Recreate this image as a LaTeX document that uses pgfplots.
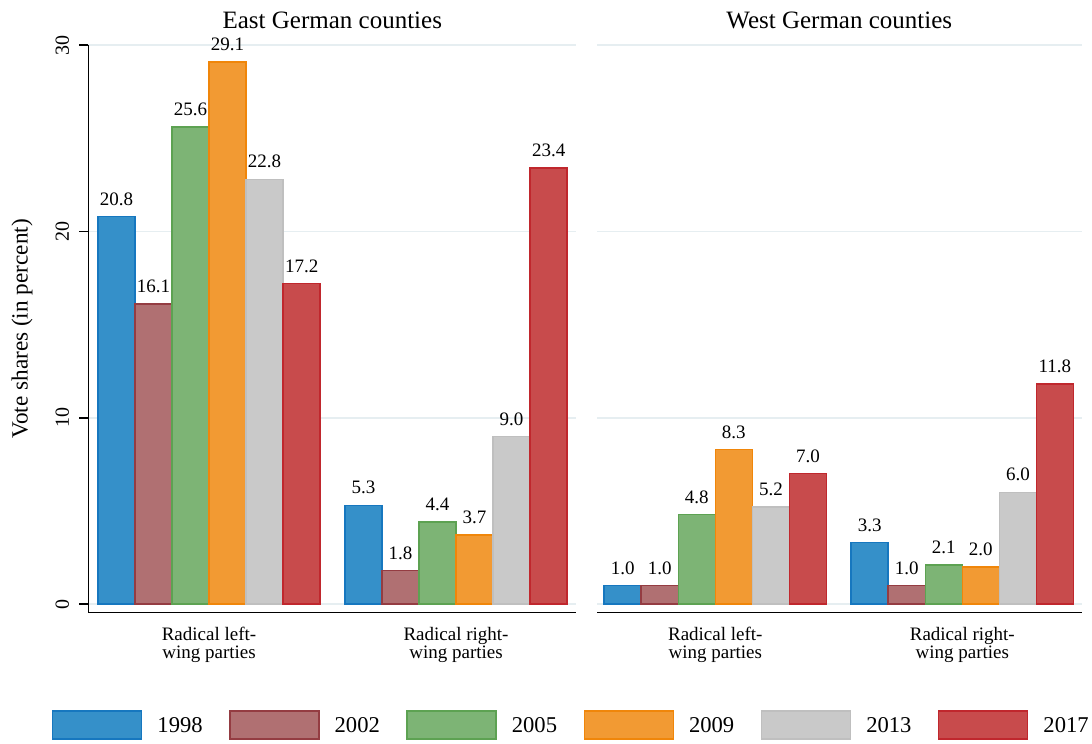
\documentclass[border=0pt]{standalone}
\usepackage{pgfplots}
\pgfplotsset{compat=1.18}
\usepackage{fontspec}
\setmainfont{Liberation Serif}

% bar fills and outlines, one pair per election year
\definecolor{f98}{HTML}{3590C9}\definecolor{e98}{HTML}{1677BF}
\definecolor{f02}{HTML}{B07072}\definecolor{e02}{HTML}{943C42}
\definecolor{f05}{HTML}{7DB475}\definecolor{e05}{HTML}{5DA252}
\definecolor{f09}{HTML}{F29A33}\definecolor{e09}{HTML}{F0860A}
\definecolor{f13}{HTML}{C9C9C9}\definecolor{e13}{HTML}{BFBFBF}
\definecolor{f17}{HTML}{C84B4C}\definecolor{e17}{HTML}{C0272D}
\definecolor{gridc}{HTML}{E6EEF1}

\pgfplotsset{
  panel/.style={
    x=123.5pt, y=9.317pt,
    ymin=-0.45, ymax=30,
    clip=false,
    scale only axis,
    axis x line*=bottom, axis y line*=left,
    axis line style={line width=0.75pt, -},
    xtick={0,1},
    xticklabels={{Radical left-\\wing parties},{Radical right-\\wing parties}},
    x tick style={draw=none},
    xticklabel style={align=center, font=\fontsize{9.5}{9}\selectfont,
      anchor=north, inner sep=0pt, yshift=-2.8pt},
    ytick={0,10,20,30},
    ymajorgrids,
    grid style={draw=gridc, line width=0.8pt},
    ybar, bar width=0.15,
    /pgf/number format/assume math mode=true,
    nodes near coords={\pgfmathprintnumber[fixed,fixed zerofill,precision=1]{\pgfplotspointmeta}},
    every node near coord/.append style={font=\fontsize{9.5}{11}\selectfont,
      anchor=base, yshift=5.7pt, inner sep=0pt, text=black},
    title style={at={(axis description cs:0.5,1)}, anchor=base, yshift=2.3pt,
      font=\fontsize{12.5}{14}\selectfont},
    legend image code/.code={\draw[##1] (0pt,-3.2pt) rectangle (44.5pt,10.8pt);},
  },
  y98/.style={draw=e98, fill=f98, line width=0.75pt, bar shift=-0.375},
  y02/.style={draw=e02, fill=f02, line width=0.75pt, bar shift=-0.225},
  y05/.style={draw=e05, fill=f05, line width=0.75pt, bar shift=-0.075},
  y09/.style={draw=e09, fill=f09, line width=0.75pt, bar shift=0.075},
  y13/.style={draw=e13, fill=f13, line width=0.75pt, bar shift=0.225},
  y17/.style={draw=e17, fill=f17, line width=0.75pt, bar shift=0.375},
}

\begin{document}
\begin{tikzpicture}
\useasboundingbox (-44.25pt,-65.75pt) rectangle (501.75pt,306.25pt);

% East German counties
\begin{axis}[panel,
  at={(0pt,0pt)}, anchor=south west,
  xmin=-0.488, xmax=1.486,
  title={East German counties},
  ylabel={Vote shares (in percent)},
  ylabel style={at={(axis description cs:-0.1364,0.5)}, anchor=center,
    font=\fontsize{11.6}{13}\selectfont},
  tick align=outside, major tick length=4.5pt,
  y tick style={line width=0.75pt, black},
  yticklabel style={rotate=90, anchor=south, inner sep=5pt,
    font=\fontsize{10}{12}\selectfont},
  legend columns=6,
  legend cell align=left,
  legend style={at={(axis description cs:-0.0749,-0.198)}, anchor=west,
    draw=none, inner sep=0pt, outer sep=0pt,
    font=\fontsize{11.3}{13}\selectfont,
    nodes={inner sep=0pt, anchor=base west},
    /tikz/every odd column/.style={column sep=7.5pt},
    /tikz/every even column/.style={column sep=13.25pt}},
]
\addplot[y98] coordinates {(0,20.8) (1,5.3)};
\addplot[y02] coordinates {(0,16.1) (1,1.8)};
\addplot[y05] coordinates {(0,25.6) (1,4.4)};
\addplot[y09] coordinates {(0,29.1) (1,3.7)};
\addplot[y13] coordinates {(0,22.8) (1,9.0)};
\addplot[y17] coordinates {(0,17.2) (1,23.4)};
\legend{1998,2002,2005,2009,2013,2017}
\end{axis}

% West German counties
\begin{axis}[panel,
  at={(254.25pt,0pt)}, anchor=south west,
  xmin=-0.479, xmax=1.483,
  title={West German counties},
  y axis line style={draw=none},
  y tick style={draw=none},
  yticklabels={},
]
\addplot[y98] coordinates {(0,1.0) (1,3.3)};
\addplot[y02] coordinates {(0,1.0) (1,1.0)};
\addplot[y05] coordinates {(0,4.8) (1,2.1)};
\addplot[y09] coordinates {(0,8.3) (1,2.0)};
\addplot[y13] coordinates {(0,5.2) (1,6.0)};
\addplot[y17] coordinates {(0,7.0) (1,11.8)};
\end{axis}
\end{tikzpicture}
\end{document}
